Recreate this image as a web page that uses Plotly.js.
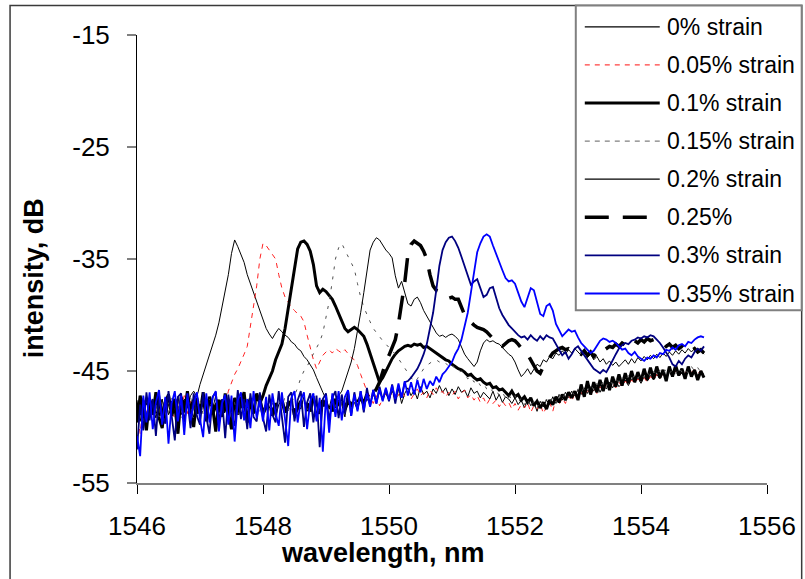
<!DOCTYPE html>
<html>
<head>
<meta charset="utf-8">
<script src="https://cdn.plot.ly/plotly-3.0.1.min.js"></script>
<style>
  html, body { margin: 0; padding: 0; background: #ffffff; }
  #chart { width: 805px; height: 579px; }
</style>
</head>
<body>
<div id="chart"></div>
<script>
// Wavelength grid (nm): 1546.00 ... 1555.00, 0.05 nm step
const wlStart = 1546.0, wlStep = 0.05, wlCount = 181;
const wavelength = Array.from({length: wlCount}, (_, i) => +(wlStart + i * wlStep).toFixed(2));

// Intensity (dB), one row per nm
const strain0 = [
 -47.6,-49.5,-48.1,-47.3,-48.8,-48.0,-49.2,-47.8,-48.5,-47.4,-48.9,-48.2,-47.6,-49.0,-48.3,-47.5,-48.1,-47.2,-46.8,-47.3,
 -46.2,-45.3,-44.6,-43.6,-42.8,-41.8,-40.7,-39.3,-38.0,-36.4,-34.5,-33.3,-33.9,-34.7,-35.3,-36.4,-37.2,-38.0,-38.9,-39.6,
 -40.5,-41.2,-41.7,-42.1,-41.6,-41.2,-41.5,-41.8,-42.0,-42.4,-42.6,-43.0,-43.2,-43.7,-44.0,-44.4,-44.9,-45.6,-46.3,-46.9,
 -47.5,-48.3,-47.2,-48.8,-47.6,-48.0,-49.1,-47.4,-48.2,-47.8,-48.5,-47.3,-48.0,-47.5,-47.9,-47.1,-47.7,-46.9,-47.4,-47.0,
 -47.6,-46.8,-47.3,-46.6,-47.9,-47.0,-46.5,-47.2,-46.7,-47.5,-46.4,-47.1,-46.8,-47.4,-46.6,-47.0,-46.3,-46.9,-46.5,-47.2,
 -46.6,-47.1,-46.4,-46.9,-46.7,-47.3,-46.5,-47.0,-46.8,-47.4,-46.9,-47.2,-47.5,-46.8,-47.6,-47.1,-47.8,-47.3,-47.5,-47.9,
 -47.4,-48.0,-47.6,-48.3,-47.5,-48.1,-47.8,-48.6,-47.7,-48.2,-47.6,-48.0,-47.3,-47.9,-47.1,-47.6,-46.9,-47.4,-46.8,-47.2,
 -46.7,-47.1,-46.5,-47.0,-46.4,-46.8,-46.2,-46.9,-46.3,-46.6,-46.0,-46.5,-45.9,-46.4,-46.1,-45.8,-46.3,-45.7,-46.0,-45.6,
 -46.1,-45.5,-45.9,-45.4,-45.8,-45.3,-45.7,-45.2,-45.6,-45.1,-45.5,-45.0,-45.4,-45.2,-45.6,-45.0,-45.3,-44.9,-45.4,-45.1,
 -45.3
];
const strain005 = [
 -48.4,-50.6,-47.9,-48.7,-47.5,-49.0,-48.2,-47.6,-48.9,-48.1,-47.4,-48.6,-49.3,-47.8,-48.3,-47.2,-48.8,-47.7,-48.4,-47.9,
 -48.6,-47.5,-48.2,-47.3,-48.7,-47.9,-48.4,-47.6,-48.1,-46.8,-46.0,-45.3,-44.8,-44.2,-43.5,-42.8,-41.0,-39.0,-37.4,-35.0,
 -33.6,-33.8,-34.2,-34.6,-35.0,-36.4,-37.6,-38.4,-38.9,-39.3,-39.6,-39.9,-40.1,-40.6,-41.8,-43.0,-44.0,-44.8,-44.2,-43.6,
 -43.3,-43.1,-43.4,-43.0,-43.2,-43.4,-43.1,-43.5,-43.8,-44.0,-44.5,-45.3,-46.0,-46.8,-47.3,-47.9,-47.2,-48.1,-47.5,-47.0,
 -47.4,-46.9,-47.6,-47.1,-46.7,-47.3,-46.8,-47.5,-47.0,-46.6,-47.2,-46.9,-47.4,-46.7,-47.1,-46.5,-47.0,-46.8,-47.3,-46.9,
 -47.2,-46.8,-47.5,-47.0,-46.7,-47.4,-47.1,-47.6,-47.2,-47.8,-47.4,-48.0,-47.5,-47.9,-47.6,-48.2,-47.7,-48.1,-47.8,-48.4,
 -47.9,-48.5,-48.0,-48.3,-47.8,-48.7,-48.1,-48.4,-47.9,-48.8,-48.2,-47.8,-48.6,-47.5,-48.0,-47.4,-47.9,-47.2,-47.7,-47.0,
 -47.5,-46.9,-47.3,-46.7,-47.2,-46.5,-47.0,-46.4,-46.8,-46.2,-46.7,-46.1,-46.5,-46.0,-46.4,-45.9,-46.2,-45.8,-46.1,-45.7,
 -45.9,-45.6,-46.0,-45.5,-45.8,-45.3,-45.7,-45.2,-45.5,-45.1,-45.4,-45.0,-45.3,-44.9,-45.2,-44.8,-45.1,-44.9,-45.2,-45.0,
 -45.2
];
const strain01 = [
 -49.6,-47.2,-48.4,-50.3,-47.5,-48.9,-46.9,-49.2,-50.1,-47.8,-47.1,-49.0,-48.1,-50.6,-47.3,-48.7,-46.8,-48.9,-50.0,-47.4,
 -48.8,-46.9,-49.5,-47.3,-48.2,-50.4,-47.6,-49.1,-47.0,-48.6,-50.2,-47.4,-48.9,-47.8,-46.9,-49.6,-47.7,-48.8,-47.0,-47.9,
 -47.2,-46.3,-45.6,-45.0,-44.0,-43.2,-42.6,-41.2,-39.4,-37.5,-35.6,-34.1,-33.5,-33.4,-33.7,-34.3,-35.5,-37.4,-38.0,-37.7,
 -37.9,-38.3,-38.6,-39.2,-39.9,-40.6,-41.2,-41.5,-41.3,-41.1,-41.3,-41.6,-41.9,-42.6,-43.4,-44.3,-45.2,-46.0,-45.6,-45.0,
 -44.4,-43.9,-43.5,-43.2,-43.0,-42.8,-42.7,-42.8,-42.6,-42.7,-42.6,-42.9,-42.8,-43.0,-43.2,-43.4,-43.6,-43.8,-44.0,-44.1,
 -44.4,-44.6,-44.8,-44.9,-45.1,-45.4,-45.3,-45.6,-45.8,-45.7,-46.0,-46.2,-46.1,-46.5,-46.4,-46.7,-46.6,-46.9,-47.2,-46.8,
 -47.3,-47.1,-47.6,-47.3,-47.8,-47.4,-48.1,-47.7,-48.3,-47.8,-48.4,-47.6,-48.0,-47.3,-47.8,-47.1,-47.6,-46.9,-47.4,-46.8,
 -47.6,-46.2,-47.3,-45.9,-47.1,-46.0,-46.9,-45.8,-46.8,-45.6,-46.7,-45.5,-46.4,-45.3,-46.3,-45.2,-46.1,-45.0,-46.0,-45.1,
 -45.9,-44.8,-45.8,-44.7,-45.7,-44.6,-45.6,-44.9,-45.9,-44.6,-45.5,-44.5,-45.4,-44.8,-45.7,-44.6,-45.5,-44.9,-45.8,-45.0,
 -45.6
];
const strain015 = [
 -48.2,-47.7,-48.9,-48.0,-47.5,-48.6,-47.9,-49.1,-48.3,-47.6,-48.8,-47.4,-48.5,-48.0,-49.2,-47.8,-48.4,-47.3,-48.7,-48.1,
 -47.6,-48.9,-48.2,-47.5,-48.6,-47.9,-49.0,-48.1,-47.4,-48.7,-48.3,-47.8,-49.2,-48.0,-47.5,-48.6,-47.9,-48.4,-47.7,-48.8,
 -48.0,-47.4,-48.5,-47.9,-48.8,-47.6,-48.2,-47.3,-48.6,-47.8,-47.2,-46.5,-45.6,-45.0,-44.6,-44.0,-43.5,-43.0,-42.4,-41.6,
 -40.2,-38.8,-37.0,-35.0,-34.0,-33.6,-34.2,-34.8,-35.4,-35.9,-37.2,-38.4,-39.3,-40.0,-40.6,-41.2,-41.6,-42.0,-42.3,-42.6,
 -42.9,-43.2,-43.5,-43.9,-44.3,-44.8,-45.2,-45.6,-46.0,-45.7,-45.2,-44.8,-44.5,-44.3,-44.1,-44.0,-44.2,-44.1,-44.3,-44.6,
 -44.4,-44.8,-45.1,-45.0,-45.4,-45.7,-45.5,-46.0,-45.8,-46.3,-46.1,-46.6,-46.4,-46.9,-46.7,-47.2,-46.9,-47.4,-47.1,-47.6,
 -47.2,-47.8,-47.4,-48.0,-47.5,-48.2,-47.7,-48.3,-47.6,-48.1,-47.5,-47.9,-47.3,-47.8,-47.1,-47.6,-46.9,-47.4,-46.8,-47.2,
 -46.6,-47.0,-46.4,-46.8,-46.2,-46.7,-46.1,-46.5,-45.9,-46.4,-45.8,-46.2,-45.7,-46.1,-45.6,-45.9,-45.4,-45.8,-45.3,-45.7,
 -45.2,-45.6,-45.1,-45.5,-45.0,-45.4,-44.9,-45.3,-44.8,-45.2,-44.9,-45.3,-44.7,-45.1,-44.8,-45.2,-44.6,-45.0,-44.7,-45.1,
 -44.9
];
const strain02 = [
 -47.9,-48.6,-47.4,-49.0,-48.1,-47.6,-48.8,-48.3,-47.5,-49.3,-48.0,-47.7,-48.6,-47.3,-48.9,-48.2,-47.6,-48.5,-49.1,-47.8,
 -48.3,-47.5,-48.8,-47.9,-48.4,-47.2,-48.7,-48.0,-47.6,-49.0,-48.2,-47.4,-48.6,-47.8,-48.3,-49.2,-47.7,-48.5,-47.3,-48.1,
 -48.6,-47.8,-48.3,-47.5,-49.1,-48.0,-47.6,-48.7,-48.2,-47.4,-48.9,-47.9,-48.4,-47.3,-48.6,-48.0,-47.5,-48.8,-47.7,-48.2,
 -47.6,-48.4,-47.9,-48.3,-47.2,-46.8,-46.0,-45.2,-44.2,-43.0,-41.5,-39.8,-38.0,-36.0,-34.2,-33.5,-33.1,-33.3,-33.8,-34.2,
 -34.5,-34.9,-36.5,-37.6,-37.0,-38.0,-39.0,-39.2,-38.6,-38.4,-38.9,-39.6,-40.1,-40.6,-41.0,-41.6,-41.9,-41.8,-42.0,-41.8,
 -41.7,-41.9,-42.2,-42.8,-43.5,-43.9,-44.3,-44.6,-44.2,-43.2,-42.5,-42.2,-42.4,-42.3,-42.5,-42.6,-42.9,-43.2,-43.5,-43.7,
 -44.2,-44.9,-45.5,-45.2,-44.8,-45.3,-44.9,-44.4,-44.6,-44.0,-44.2,-43.7,-43.9,-43.4,-43.6,-43.2,-43.5,-43.1,-43.4,-43.0,
 -43.3,-43.6,-43.2,-43.8,-43.5,-44.0,-43.7,-44.2,-43.9,-44.4,-44.1,-44.5,-44.2,-44.6,-44.3,-44.0,-44.4,-43.9,-44.3,-43.8,
 -44.1,-43.7,-44.0,-43.6,-43.9,-43.5,-43.8,-43.4,-43.7,-43.3,-43.6,-43.2,-43.5,-43.1,-43.4,-43.0,-43.3,-43.0,-43.4,-43.1,
 -43.5
];
const strain025 = [
 -48.5,-47.8,-49.2,-48.1,-47.6,-48.8,-48.3,-47.4,-49.0,-48.2,-47.9,-48.6,-47.5,-49.4,-48.0,-47.7,-48.9,-48.3,-47.6,-48.4,
 -49.1,-47.8,-48.5,-47.4,-48.8,-48.1,-47.6,-49.0,-48.3,-47.7,-48.6,-47.9,-48.4,-47.3,-48.9,-48.2,-47.5,-48.7,-48.0,-47.6,
 -48.8,-48.2,-47.5,-49.0,-47.9,-48.4,-47.6,-48.7,-48.1,-47.4,-48.9,-48.3,-47.7,-48.5,-47.9,-48.6,-47.3,-48.2,-48.8,-47.6,
 -48.3,-47.8,-48.6,-47.5,-48.1,-47.3,-48.4,-47.7,-48.0,-47.2,-47.8,-47.4,-47.9,-47.1,-47.6,-47.0,-46.6,-46.0,-45.0,-44.2,
 -43.6,-42.9,-42.2,-40.8,-38.9,-37.1,-34.6,-33.7,-33.4,-33.6,-33.8,-34.3,-35.0,-36.4,-37.4,-37.8,-37.9,-38.1,-38.3,-38.5,
 -38.4,-38.6,-38.6,-39.3,-40.0,-40.4,-40.7,-40.9,-41.1,-41.2,-41.3,-41.5,-41.8,-42.1,-42.4,-42.7,-42.8,-42.5,-42.3,-42.2,
 -42.3,-42.6,-43.0,-43.3,-43.5,-44.0,-44.6,-45.0,-45.2,-44.6,-44.2,-43.8,-43.4,-43.2,-43.0,-42.9,-43.1,-43.0,-43.2,-43.4,
 -43.3,-43.5,-43.2,-43.6,-43.3,-43.7,-43.4,-43.6,-43.2,-43.0,-42.8,-42.9,-42.6,-42.8,-42.5,-42.7,-42.4,-42.6,-42.3,-42.5,
 -42.2,-42.4,-42.1,-42.3,-42.2,-42.4,-42.6,-42.5,-42.8,-42.6,-42.9,-42.7,-43.0,-42.8,-43.1,-42.9,-43.2,-43.0,-43.3,-43.1,
 -43.4
];
const strain03 = [
 -52.0,-48.0,-50.3,-46.9,-49.4,-47.5,-50.8,-47.1,-49.0,-49.7,-46.8,-49.2,-51.2,-47.3,-47.0,-49.6,-47.6,-50.1,-47.0,-49.0,
 -49.8,-46.9,-49.1,-50.6,-47.3,-46.9,-49.6,-47.5,-51.0,-47.1,-49.0,-49.9,-46.7,-49.3,-47.5,-50.2,-47.0,-49.1,-49.5,-46.9,
 -49.2,-50.4,-47.1,-48.9,-49.6,-46.8,-49.3,-51.4,-47.3,-46.9,-49.5,-47.6,-46.8,-50.0,-47.8,-47.0,-49.6,-47.2,-51.8,-47.5,
 -47.0,-49.5,-47.4,-46.8,-49.2,-47.1,-48.8,-46.7,-49.0,-46.9,-48.4,-46.8,-48.7,-46.5,-48.1,-46.7,-47.9,-46.4,-47.6,-46.6,
 -47.7,-46.2,-47.9,-46.3,-47.4,-46.0,-45.9,-45.6,-45.2,-44.8,-44.2,-43.5,-42.6,-41.3,-39.8,-37.8,-35.6,-34.2,-33.5,-33.1,
 -33.0,-33.4,-34.0,-34.8,-35.6,-36.6,-37.3,-37.0,-36.8,-37.6,-38.4,-38.2,-37.6,-37.5,-38.4,-39.4,-40.0,-40.5,-40.9,-41.2,
 -41.5,-41.8,-42.0,-41.9,-42.2,-41.8,-42.1,-42.3,-41.9,-42.2,-41.8,-42.0,-42.1,-42.6,-43.1,-43.6,-43.3,-43.9,-43.5,-43.0,
 -42.8,-43.2,-43.6,-44.1,-44.5,-44.8,-45.0,-45.2,-44.9,-45.1,-44.6,-44.0,-43.5,-43.0,-42.7,-42.5,-42.6,-42.3,-42.2,-42.0,
 -42.1,-41.9,-42.0,-41.8,-41.9,-42.2,-42.5,-42.9,-43.3,-43.8,-44.4,-44.6,-44.1,-44.4,-43.9,-43.6,-43.8,-43.3,-43.0,-43.2,
 -42.8
];
const strain035 = [
 -50.8,-52.6,-47.2,-49.6,-46.9,-50.2,-47.8,-46.7,-49.8,-47.3,-51.5,-47.9,-46.8,-49.5,-47.2,-50.7,-47.0,-49.4,-48.0,-46.9,
 -49.3,-50.9,-47.0,-49.6,-47.4,-46.8,-50.4,-47.9,-47.1,-49.8,-47.2,-51.3,-47.6,-46.9,-49.4,-47.5,-50.1,-46.8,-49.2,-47.6,
 -49.5,-47.3,-50.3,-47.0,-48.8,-49.9,-46.9,-49.2,-51.7,-47.4,-46.8,-49.6,-47.6,-46.9,-50.2,-47.7,-47.0,-49.5,-47.4,-52.2,
 -47.2,-50.5,-47.0,-49.1,-46.8,-49.4,-47.3,-46.7,-49.0,-47.1,-48.6,-46.8,-48.5,-47.0,-48.2,-46.7,-47.9,-46.6,-47.7,-46.5,
 -47.6,-46.3,-47.5,-46.1,-47.4,-45.9,-47.2,-46.0,-47.1,-45.8,-46.9,-45.7,-46.6,-45.9,-46.3,-45.5,-46.0,-45.3,-45.0,-44.6,
 -44.2,-43.5,-43.0,-42.2,-41.0,-39.8,-38.0,-36.0,-34.4,-33.6,-33.0,-32.8,-33.0,-33.8,-34.6,-35.4,-36.0,-36.7,-37.0,-36.9,
 -37.2,-38.0,-38.8,-39.3,-38.4,-37.6,-37.8,-38.9,-39.9,-40.1,-39.2,-39.0,-39.6,-40.8,-41.4,-41.9,-41.6,-41.3,-41.5,-41.4,
 -42.0,-42.5,-42.8,-43.1,-43.4,-43.2,-42.8,-42.3,-42.1,-42.2,-42.4,-42.3,-42.5,-42.8,-43.1,-43.0,-43.4,-43.6,-43.3,-43.7,
 -43.9,-44.1,-43.8,-43.9,-43.6,-43.8,-43.4,-43.5,-43.1,-43.2,-42.9,-43.1,-42.7,-42.6,-42.8,-42.4,-42.5,-42.2,-42.0,-41.9,
 -42.0
];

const seriesNames = ["0% strain", "0.05% strain", "0.1% strain", "0.15% strain", "0.2% strain", "0.25%", "0.3% strain", "0.35% strain"];
const seriesValues = [strain0, strain005, strain01, strain015, strain02, strain025, strain03, strain035];

// Styles
const seriesColors = ["#000000", "#ff2020", "#000000", "#505050", "#000000", "#000000", "#000080", "#0000ff"];
const seriesWidths = [1, 1, 3, 1, 1, 3.5, 1.8, 1.8];
const seriesDash   = ["solid", "5px,5px", "solid", "3px,7px", "solid", "24px,14px", "solid", "solid"];
const legendColors = ["#000000", "#ff4040", "#000000", "#808080", "#000000", "#000000", "#000080", "#0000ff"];
const legendDash   = ["solid", "5px,5px", "solid", "5px,5px", "solid", "24px,14px", "solid", "solid"];

const xTicks = [1546, 1548, 1550, 1552, 1554, 1556];
const yTicks = [-55, -45, -35, -25, -15];

const traces = seriesValues.map((vals, k) => ({
  type: "scatter",
  mode: "lines",
  name: seriesNames[k],
  x: wavelength,
  y: vals,
  line: { color: seriesColors[k], width: seriesWidths[k], dash: seriesDash[k] },
  showlegend: false,
  hoverinfo: "skip"
}));

// Plot area geometry (pixels)
const W = 805, H = 579;
const plotL = 137, plotR = 767.3, plotT = 34.7, plotB = 482.7;
const pxX = px => (px - plotL) / (plotR - plotL);
const pxY = py => (plotB - py) / (plotB - plotT);

const FONT = "Liberation Sans, Arial, Helvetica, sans-serif";

const shapes = [];
const annotations = [];

// Outer chart frame
shapes.push({ type: "rect", xref: "paper", yref: "paper",
  x0: pxX(10), x1: pxX(802), y0: pxY(590), y1: pxY(5.3),
  line: { color: "#3a3a3a", width: 1.5 }, fillcolor: "rgba(0,0,0,0)", layer: "above" });

// Legend box
shapes.push({ type: "rect", xref: "paper", yref: "paper",
  x0: pxX(576), x1: pxX(802), y0: pxY(310), y1: pxY(5.3),
  line: { color: "#808080", width: 2 }, fillcolor: "#ffffff", layer: "above" });

// Legend entries
seriesNames.forEach((name, k) => {
  const yy = pxY(26.5 + 38.1 * k);
  shapes.push({ type: "line", xref: "paper", yref: "paper",
    x0: pxX(585), x1: pxX(660), y0: yy, y1: yy,
    line: { color: legendColors[k], width: Math.max(seriesWidths[k], 1.2), dash: legendDash[k] }, layer: "above" });
  annotations.push({ xref: "paper", yref: "paper", x: pxX(665), y: yy,
    xanchor: "left", yanchor: "middle", showarrow: false, text: name,
    font: { family: FONT, size: 23, color: "#000000" } });
});

// Axis titles
annotations.push({ xref: "paper", yref: "paper", x: pxX(383), y: pxY(553),
  xanchor: "center", yanchor: "middle", showarrow: false,
  text: "<b>wavelength, nm</b>", font: { family: FONT, size: 27, color: "#000000" } });
annotations.push({ xref: "paper", yref: "paper", x: pxX(34), y: pxY(278),
  xanchor: "center", yanchor: "middle", showarrow: false, textangle: -90,
  text: "<b>intensity, dB</b>", font: { family: FONT, size: 27, color: "#000000" } });

const layout = {
  width: W, height: H,
  margin: { l: plotL, r: W - plotR, t: plotT, b: H - plotB, pad: 0 },
  paper_bgcolor: "#ffffff",
  plot_bgcolor: "#ffffff",
  showlegend: false,
  font: { family: FONT, color: "#000000" },
  xaxis: {
    range: [1546, 1556],
    tickvals: xTicks,
    ticktext: xTicks.map(String),
    ticks: "outside", ticklen: 9, tickwidth: 1, tickcolor: "#000000",
    showline: true, linecolor: "#808080", linewidth: 1.5,
    showgrid: false, zeroline: false,
    tickfont: { family: FONT, size: 26, color: "#000000" },
    ticklabelstandoff: 10
  },
  yaxis: {
    range: [-55, -15],
    tickvals: yTicks,
    ticktext: yTicks.map(String),
    ticks: "outside", ticklen: 9, tickwidth: 1.5, tickcolor: "#808080",
    showline: true, linecolor: "#000000", linewidth: 1,
    showgrid: false, zeroline: false,
    tickfont: { family: FONT, size: 26, color: "#000000" },
    ticklabelstandoff: 12
  },
  shapes: shapes,
  annotations: annotations
};

Plotly.newPlot("chart", traces, layout, { staticPlot: true, displayModeBar: false });
</script>
</body>
</html>
